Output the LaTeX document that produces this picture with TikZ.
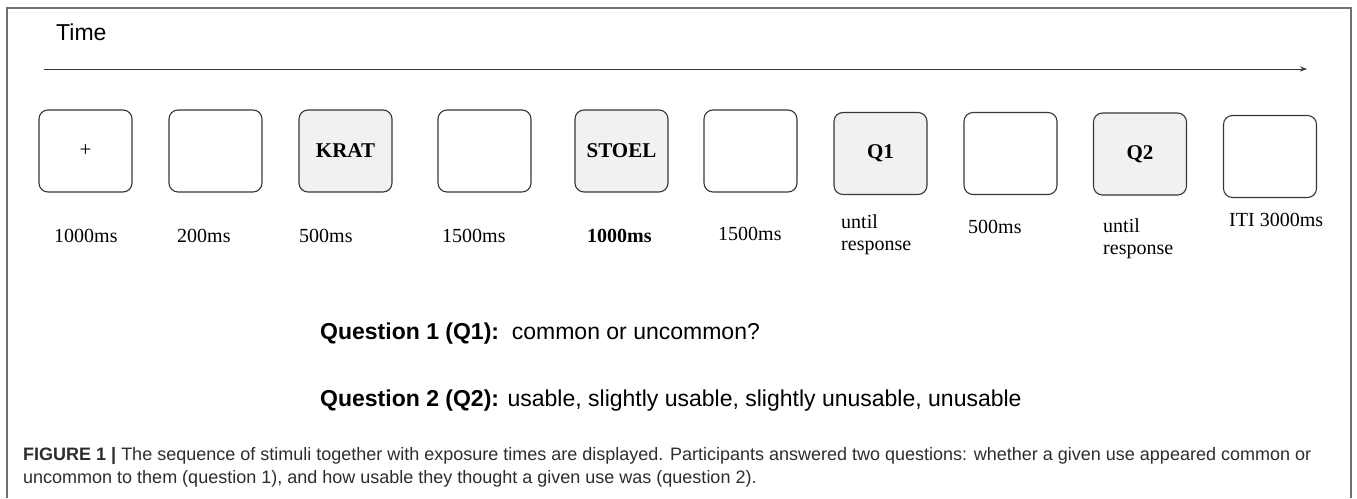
\documentclass[tikz,border=0pt]{standalone}
\usepackage{fontspec}
\setmainfont{Liberation Serif}
\setsansfont{Liberation Sans}
\usetikzlibrary{arrows.meta}
\definecolor{framegray}{RGB}{112,112,112}
\definecolor{stimfill}{RGB}{241,241,241}
\definecolor{edgegray}{RGB}{55,55,55}
\definecolor{capgray}{RGB}{45,45,45}
\begin{document}
\begin{tikzpicture}[x=1pt, y=-1pt,
		screen/.style={draw=edgegray, line width=1.1pt, rounded corners=9pt,
			minimum width=93pt, minimum height=82pt, inner sep=0pt,
			font=\fontsize{21}{24}\selectfont\bfseries},
		stim/.style={screen, fill=stimfill},
		dur/.style={anchor=base west, inner sep=0pt, align=left,
			font=\fontsize{20}{22}\selectfont},
		sans/.style={anchor=base west, inner sep=0pt,
			font=\sffamily\fontsize{23}{26}\selectfont}]
		\useasboundingbox (0,0) rectangle (1357,498);
		% frame, open at the bottom
		\draw[framegray, line width=1.5pt] (7,498) -- (7,8) -- (1351,8) -- (1351,498);
		% time axis
		\node[sans] (time) at (56,40) {Time};
		\coordinate (t0) at (44,69);
		\coordinate (t1) at (1307,69);
		\draw[-{Stealth[length=7pt,width=5pt]}, edgegray, line width=1pt] (t0) -- (t1);
		% screens of one trial
		\foreach \x/\y/\s/\t [count=\p] in {85.5/151/screen/{\mdseries +},
			215.5/151/screen/{}, 345.5/151/stim/KRAT, 484.5/151/screen/{},
			621.5/151/stim/STOEL, 750.5/151/screen/{}, 880.5/153.5/stim/Q1,
			1010.5/153.5/screen/{}, 1140/154/stim/Q2, 1270/156.5/screen/{}} {
			\node[\s] (s\p) at (\x,\y) {\t};
		};
		% durations (base = last line)
		\foreach \x/\y/\t [count=\p] in {54/242/1000ms, 177/242/200ms,
			299/242/500ms, 442/242/1500ms, 587/242/{\bfseries 1000ms},
			718/240/1500ms, 841/250/{until\\response}, 968/233/500ms,
			1103/254/{until\\response}, 1229/226/ITI 3000ms} {
			\node[dur] (d\p) at (\x,\y) {\t};
		};
		% questions
		\node[sans] (q1) at (320,339) {\textbf{Question 1 (Q1):}\ \ common or uncommon?};
		\node[sans] (q2) at (320,406) {\textbf{Question 2 (Q2):} usable, slightly usable, slightly unusable, unusable};
		% caption
		\node[anchor=base west, inner sep=0pt, align=left, text=capgray,
			font=\sffamily\fontsize{18}{23}\selectfont] (cap) at (23,483)
			{\textbf{FIGURE 1} \textbf{|} The sequence of stimuli together with exposure times are displayed. Participants answered two questions: whether a given use appeared common or\\
			uncommon to them (question 1), and how usable they thought a given use was (question 2).};
	\end{tikzpicture}
\end{document}
